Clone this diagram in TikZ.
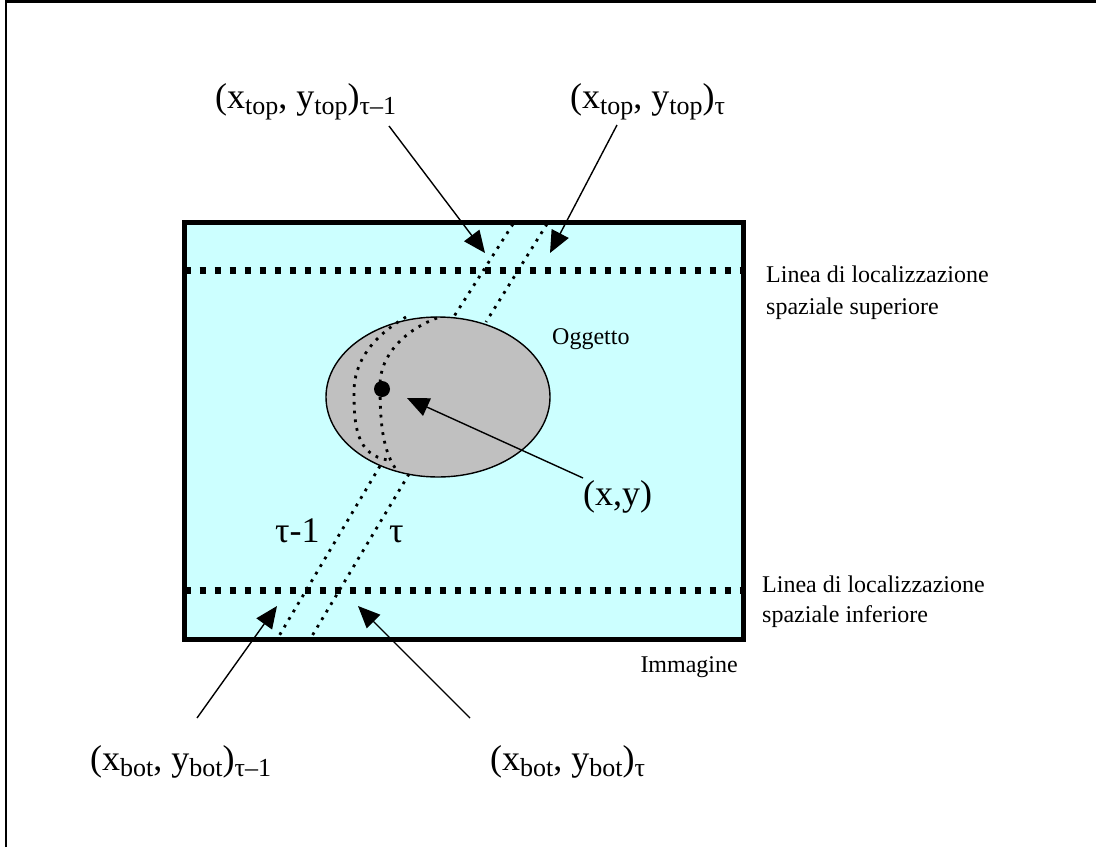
\documentclass[tikz,border=0pt]{standalone}
\usepackage{fontspec}
\setmainfont{Liberation Serif}
\usetikzlibrary{arrows.meta,shapes.geometric}
\definecolor{imgcyan}{HTML}{CCFFFF}
\definecolor{objgray}{HTML}{C0C0C0}
\newcommand\bigtxt{\fontsize{36}{40}\selectfont}
\newcommand\smalltxt{\fontsize{24}{30}\selectfont}
\newcommand\sbx[1]{\raisebox{-6pt}{\fontsize{26}{26}\selectfont #1}}
\tikzset{
  frameline/.style={line width=2.5pt},
  imgbox/.style={draw, line width=5pt, fill=imgcyan, minimum width=559pt, minimum height=417pt, inner sep=0pt, outer sep=0pt},
  objshape/.style={ellipse, draw, line width=1.4pt, fill=objgray, minimum width=224pt, minimum height=160pt, inner sep=0pt},
  locline/.style={line width=7pt, dash pattern=on 6.5pt off 8.5pt},
  traj/.style={line width=2.8pt, dash pattern=on 2.8pt off 6pt},
  ptr/.style={line width=1.4pt, -{Triangle[length=22pt,width=19pt]}},
  biglabel/.style={anchor=base west, inner sep=0pt, font=\bigtxt},
  smalllabel/.style={anchor=base west, inner sep=0pt, font=\smalltxt, align=left},
}
\begin{document}
\begin{tikzpicture}[x=1pt,y=-1pt]
\useasboundingbox (0,0) rectangle (1096,847);
% outer frame
\draw[frameline] (6,847) -- (6,1.5) -- (1096,1.5);
% image
\node[imgbox] (img) at (463.5,430.5) {};
% localisation lines
\draw[locline] (184.5,270) -- (743,270);
\draw[locline] (184.5,590) -- (743,590);
% object
\node[objshape] (obj) at (438,397) {};
% trajectories
\draw[traj] (513,224) -- (453,318);
\draw[traj] (547,224) -- (486,322);
\draw[traj] (380,466) -- (279,636);
\draw[traj] (409,474) -- (312,636);
\draw[traj] (406,317) .. controls (372,337) and (354,362) .. (354,392) .. controls (354,425) and (356,455) .. (388,460);
\draw[traj] (437,318) .. controls (405,330) and (380,355) .. (380,385) .. controls (380,420) and (382,452) .. (398,472);
% centroid
\node[circle, fill=black, minimum size=16pt, inner sep=0pt] (c) at (382,389) {};
% labels
\node[biglabel] (ltopa) at (215,108) {(x\sbx{top}, y\sbx{top})\sbx{τ–1}};
\node[biglabel] (ltopb) at (570,108) {(x\sbx{top}, y\sbx{top})\sbx{τ}};
\node[biglabel] (lxy) at (583,505) {(x,y)};
\node[biglabel] (lbota) at (90,770) {(x\sbx{bot}, y\sbx{bot})\sbx{τ–1}};
\node[biglabel] (lbotb) at (490,770) {(x\sbx{bot}, y\sbx{bot})\sbx{τ}};
\node[biglabel] (ltaua) at (275,542) {τ-1};
\node[biglabel] (ltaub) at (389,542) {τ};
\node[smalllabel] (lobj) at (552,344) {Oggetto};
\node[smalllabel] (lsup1) at (766,282) {Linea di localizzazione};
\node[smalllabel] (lsup2) at (766,314) {spaziale superiore};
\node[smalllabel] (linf1) at (762,592) {Linea di localizzazione};
\node[smalllabel] (linf2) at (762,622) {spaziale inferiore};
\node[smalllabel, anchor=base east] (limg) at (738,672) {Immagine};
% arrow anchors
\coordinate (s1) at (389,126); \coordinate (t1) at (485,253);
\coordinate (s2) at (617,125); \coordinate (t2) at (550,253);
\coordinate (s3) at (583,478); \coordinate (t3) at (407,398);
\coordinate (s4) at (197,718); \coordinate (t4) at (277,606);
\coordinate (s5) at (470,718); \coordinate (t5) at (358,606);
\draw[ptr] (s1) -- (t1);
\draw[ptr] (s2) -- (t2);
\draw[ptr] (s3) -- (t3);
\draw[ptr] (s4) -- (t4);
\draw[ptr] (s5) -- (t5);
\end{tikzpicture}
\end{document}
